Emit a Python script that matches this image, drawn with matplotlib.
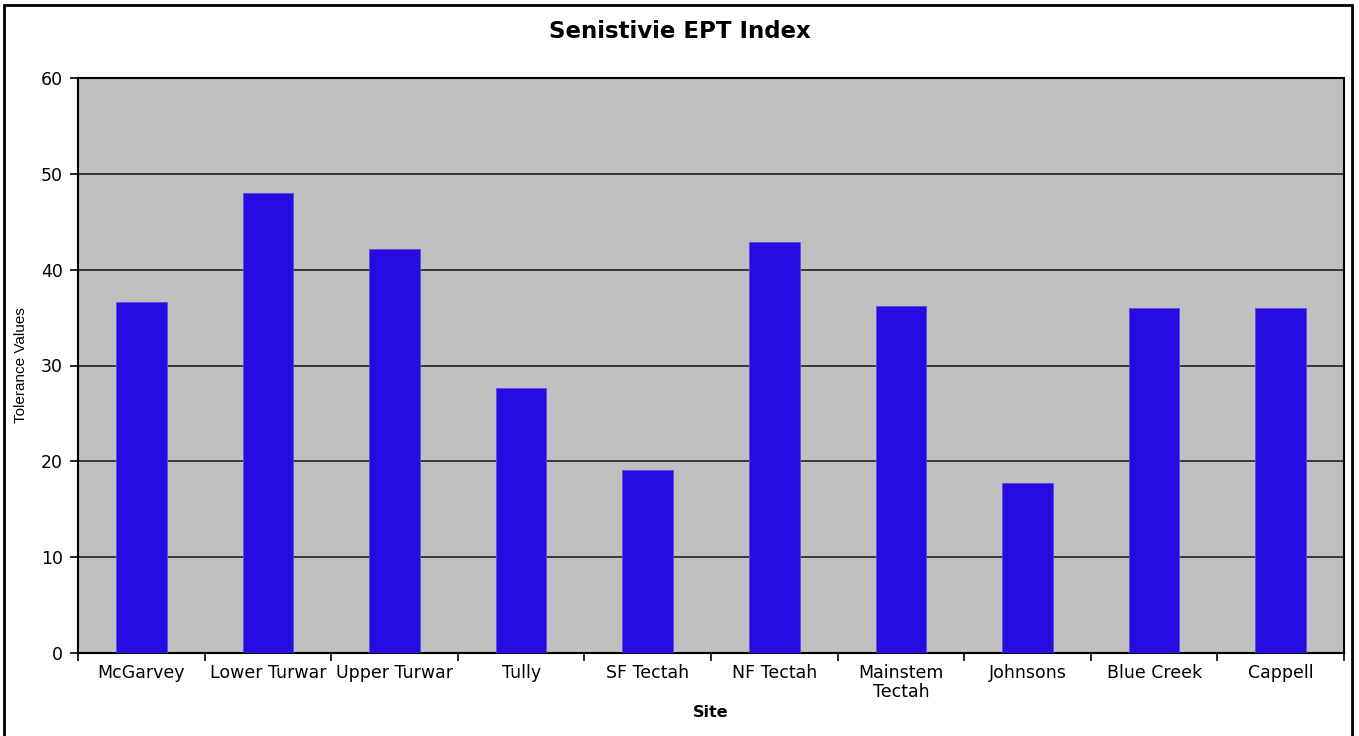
import numpy as np
import matplotlib
matplotlib.use("Agg")
import matplotlib.pyplot as plt
from matplotlib.patches import Rectangle

sites = ["McGarvey", "Lower Turwar", "Upper Turwar", "Tully", "SF Tectah",
         "NF Tectah", "Mainstem\nTectah", "Johnsons", "Blue Creek", "Cappell"]
ept_values = [36.6, 48.0, 42.2, 27.7, 19.1, 42.9, 36.2, 17.7, 36.0, 36.0]
y_ticks = [0, 10, 20, 30, 40, 50, 60]

plt.rcParams['font.family'] = ['DejaVu Sans']

fig = plt.figure(figsize=(13.59, 7.36), dpi=100)
ax = fig.add_axes([78/1359, 83/736, (1344-78)/1359, (653-78)/736])

# outer chart border
fig.patches.append(Rectangle((4/1359, -0.01), 1348/1359, 1 - 5/736 + 0.01,
                             transform=fig.transFigure, fill=False,
                             edgecolor='black', linewidth=2))

x = np.arange(len(sites))
ax.set_facecolor('#c0c0c0')
ax.bar(x, ept_values, width=0.4, color='#260ce3', edgecolor='#5a4be0',
       linewidth=0.6, zorder=3)

ax.set_xlim(-0.5, len(sites) - 0.5)
ax.set_ylim(0, 60)
ax.set_yticks(y_ticks)
ax.yaxis.grid(True, color='#222222', linewidth=1.2, zorder=1)
ax.set_axisbelow(True)

ax.set_xticks(x)
ax.set_xticklabels(sites, fontsize=12.5, linespacing=1.05)
ax.set_xticks(np.arange(-0.5, len(sites)), minor=True)
ax.tick_params(axis='x', which='major', length=0, pad=8)
ax.tick_params(axis='x', which='minor', length=6, width=1.2, direction='out')
ax.tick_params(axis='y', length=6, width=1.2, labelsize=12.5, pad=5)

for s in ax.spines.values():
    s.set_linewidth(1.5)
    s.set_color('black')

ax.set_ylabel("Tolerance Values", fontsize=11,
              family=['Liberation Sans Narrow', 'Liberation Sans'], labelpad=9)
ax.set_xlabel("Site", fontsize=11.5, fontweight='bold', labelpad=3)
fig.text(0.5, 1 - 31/736, "Senistivie EPT Index", ha='center', va='center',
         fontsize=16.5, fontweight='bold')

fig.savefig("out.png", dpi=100)
